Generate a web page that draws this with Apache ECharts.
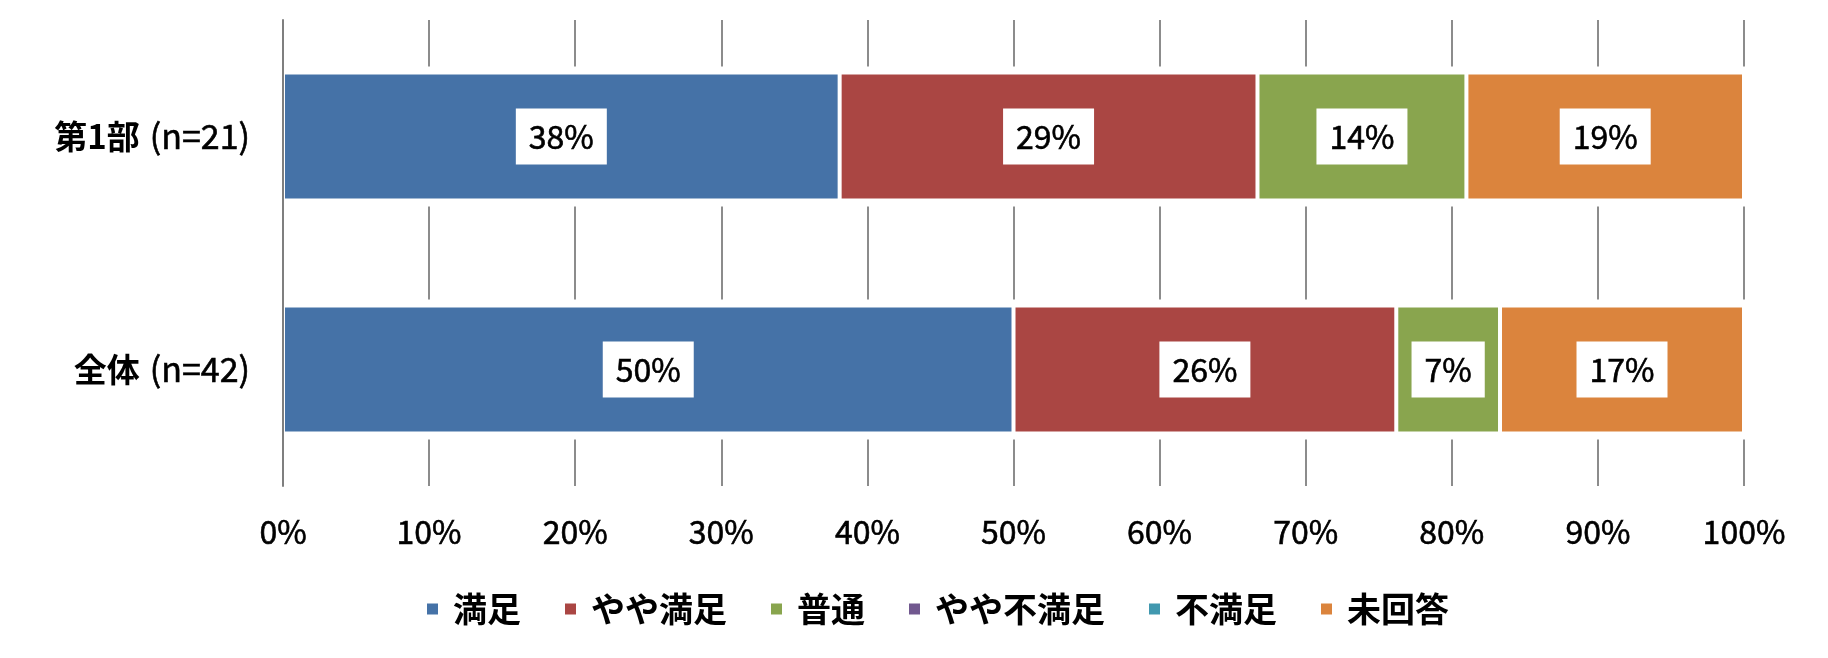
<!DOCTYPE html>
<html>
<head>
<meta charset="utf-8">
<script src="https://cdn.jsdelivr.net/npm/echarts@6/dist/echarts.min.js"></script>
<style>
html,body{margin:0;padding:0;background:#fff;}
#chart{width:1828px;height:658px;}
</style>
</head>
<body>
<div id="chart"></div>
<script>
// ---- data ----
const groupNames = ['第1部', '全体'];
const sampleSizes = ['(n=21)', '(n=42)'];
const seriesNames = ['満足', 'やや満足', '普通', 'やや不満足', '不満足', '未回答'];
const manzoku      = [38.1, 50.0];
const yayaManzoku  = [28.6, 26.2];
const futsuu       = [14.3, 7.1];
const yayaFuman    = [0, 0];
const fuman        = [0, 0];
const mikaitou     = [19.0, 16.7];
const xTicks = [0, 10, 20, 30, 40, 50, 60, 70, 80, 90, 100];

const seriesValues = [manzoku, yayaManzoku, futsuu, yayaFuman, fuman, mikaitou];
const colors = ['#4572A7', '#AA4643', '#89A54E', '#71588F', '#4198AF', '#DB843D'];
const FONT = '"Noto Sans CJK JP", "Noto Sans", sans-serif';

const categories = groupNames.map((g, i) => g + '|' + sampleSizes[i]);

const chart = echarts.init(document.getElementById('chart'));

const series = seriesNames.map((name, si) => ({
  name: name,
  type: 'bar',
  stack: 'total',
  barWidth: 128,
  showBackground: si === 0,
  backgroundStyle: { color: '#fff', borderColor: '#fff', borderWidth: 12 },
  itemStyle: { color: colors[si], borderColor: '#fff', borderWidth: 2 },
  label: {
    show: true,
    position: 'inside',
    formatter: p => Math.round(p.value) + '%',
    fontFamily: FONT,
    fontSize: 32,
    lineHeight: 32,
    color: '#000',
    textBorderColor: '#000',
    textBorderWidth: 0.6,
    backgroundColor: '#fff',
    padding: [12, 13]
  },
  emphasis: { disabled: true },
  data: seriesValues[si].map(v => v === 0 ? { value: v, label: { show: false } } : v)
}));

chart.setOption({
  animation: false,
  color: colors,
  grid: { left: 283, right: 84, top: 20, bottom: 172 },
  xAxis: {
    type: 'value',
    min: xTicks[0],
    max: xTicks[xTicks.length - 1],
    interval: 10,
    axisLine: { show: false },
    axisTick: { show: false },
    splitLine: { show: true, lineStyle: { color: '#8c8c8c', width: 2 } },
    axisLabel: {
      formatter: v => v + '%',
      fontFamily: FONT,
      fontSize: 32,
      color: '#000',
      textBorderColor: '#000',
      textBorderWidth: 0.6,
      margin: 30
    }
  },
  yAxis: {
    type: 'category',
    inverse: true,
    data: categories,
    z: 5,
    axisLine: { show: true, lineStyle: { color: '#7f7f7f', width: 2 } },
    axisTick: { show: false },
    axisLabel: {
      margin: 33,
      formatter: v => {
        const parts = v.split('|');
        return '{a|' + parts[0] + '}{b|' + parts[1] + '}';
      },
      rich: {
        a: { fontFamily: FONT, fontSize: 33, fontWeight: 'bold', color: '#000' },
        b: { fontFamily: FONT, fontSize: 34, fontWeight: 'normal', color: '#000',
             textBorderColor: '#000', textBorderWidth: 0.6, padding: [0, 0, 0, 10] }
      }
    }
  },
  legend: {
    data: seriesNames,
    left: 420,
    top: 584,
    icon: 'rect',
    itemWidth: 13,
    itemHeight: 13,
    itemGap: 42,
    selectedMode: false,
    textStyle: {
      fontFamily: FONT,
      fontSize: 34,
      fontWeight: 'bold',
      color: '#000',
      lineHeight: 40,
      padding: [0, 0, 0, 9]
    }
  },
  series: series
});
</script>
</body>
</html>
